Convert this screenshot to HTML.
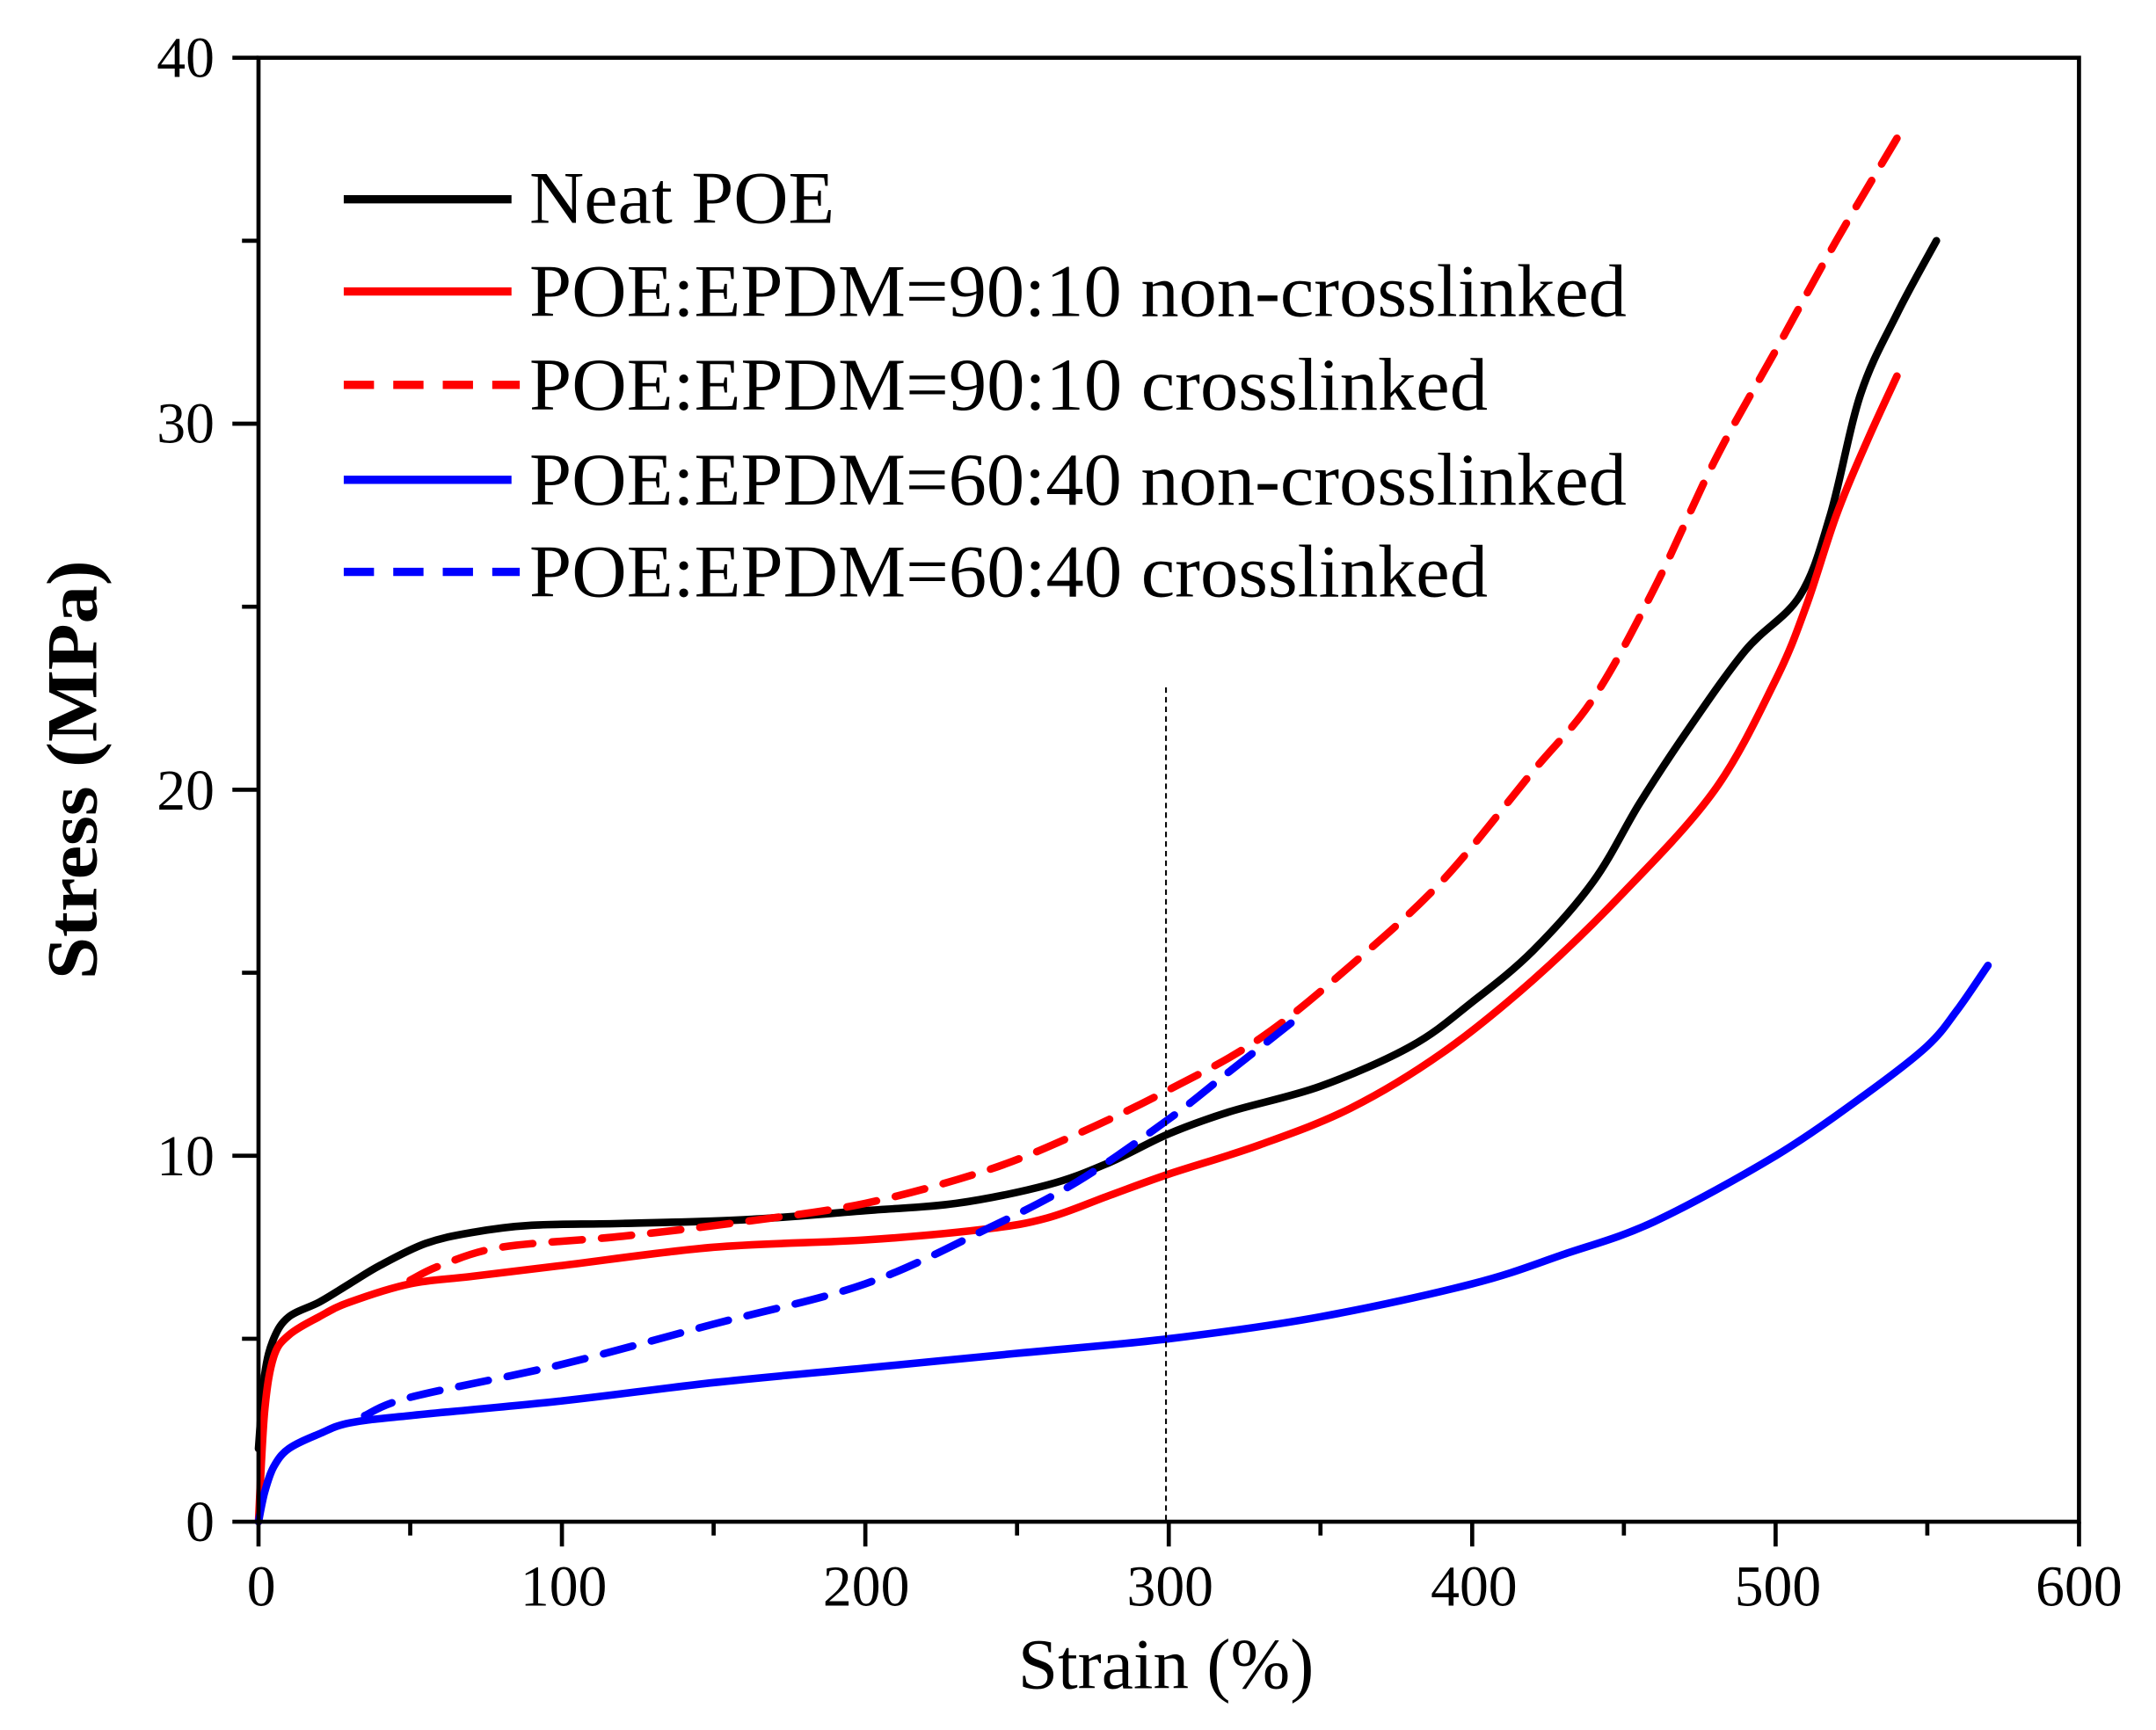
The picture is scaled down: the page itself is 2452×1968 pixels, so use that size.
<!DOCTYPE html>
<html><head><meta charset="utf-8"><style>html,body{margin:0;padding:0;background:#fff}svg{display:block}</style></head>
<body>
<svg id="s" width="2452" height="1968" viewBox="0 0 1568 1258.5" xmlns="http://www.w3.org/2000/svg">
<rect width="1568" height="1260" fill="#fff"/>
<g id="curves" fill="none" stroke-width="5.5" stroke-linejoin="round" stroke-linecap="round"></g>
<line x1="848" y1="500" x2="848" y2="1107" stroke="#000" stroke-width="1.3" stroke-dasharray="4,3"/>
<g stroke="#000" stroke-width="3" fill="none">
<path d="M188,42 H1512 V1107 H188 Z"/>
<g id="ticks"></g>
</g>
<g font-family="Liberation Serif, serif" font-size="42" fill="#000" text-anchor="middle">
<text x="190" y="1168">0</text><text x="410" y="1168">100</text><text x="630" y="1168">200</text>
<text x="851" y="1168">300</text><text x="1072" y="1168">400</text><text x="1293" y="1168">500</text><text x="1512" y="1168">600</text>
</g>
<g font-family="Liberation Serif, serif" font-size="42" fill="#000" text-anchor="end">
<text x="156" y="1121">0</text><text x="156" y="855">10</text><text x="156" y="589">20</text><text x="156" y="322">30</text><text x="156" y="56">40</text>
</g>
<text x="848" y="1228" font-family="Liberation Serif, serif" font-size="52" text-anchor="middle">Strain (%)</text>
<text transform="translate(70,560) rotate(-90)" font-family="Liberation Serif, serif" font-weight="bold" font-size="52" text-anchor="middle" textLength="305" lengthAdjust="spacingAndGlyphs">Stress (MPa)</text>
<g font-family="Liberation Serif, serif" font-size="54" fill="#000">
<text x="385" y="162" textLength="222" lengthAdjust="spacingAndGlyphs">Neat POE</text>
<text x="385" y="230" textLength="798" lengthAdjust="spacingAndGlyphs">POE:EPDM=90:10 non-crosslinked</text>
<text x="385" y="298" textLength="697" lengthAdjust="spacingAndGlyphs">POE:EPDM=90:10 crosslinked</text>
<text x="385" y="367" textLength="798" lengthAdjust="spacingAndGlyphs">POE:EPDM=60:40 non-crosslinked</text>
<text x="385" y="434" textLength="697" lengthAdjust="spacingAndGlyphs">POE:EPDM=60:40 crosslinked</text>
</g>
<g stroke-width="6">
<line x1="250" y1="145" x2="372" y2="145" stroke="#000"/>
<line x1="250" y1="212" x2="372" y2="212" stroke="#f00"/>
<line x1="250" y1="280" x2="378" y2="280" stroke="#f00" stroke-dasharray="22,14"/>
<line x1="250" y1="349" x2="372" y2="349" stroke="#00f"/>
<line x1="250" y1="416" x2="378" y2="416" stroke="#00f" stroke-dasharray="22,14"/>
</g>
</svg>
<script>
var X=function(v){return 188+v*2.2067},Y=function(v){return 1107-v*26.625};
var t='';
for(var i=0;i<=12;i++){var x=X(i*50);t+='M'+x+',1107 v'+(i%2?10:18)+' ';}
for(var j=0;j<=8;j++){var y=Y(j*5);t+='M188,'+y+' h'+(j%2?-12:-19)+' ';}
document.getElementById('ticks').innerHTML='<path d="'+t+'"/>';
var S=[
['#000','',[[0,2],[2,4],[5,5],[10,5.6],[20,6],[30,6.5],[40,7],[55,7.6],[70,7.9],[90,8.1],[120,8.15],[160,8.25],[200,8.5],[230,8.7],[260,9.2],[280,9.8],[300,10.6],[320,11.2],[350,11.9],[380,13],[400,14.2],[420,15.6],[440,17.5],[455,19.6],[470,21.5],[490,23.8],[508,25.3],[518,27.5],[528,30.8],[540,33],[553,35]]],
['#f00','',[[0,0],[2,3],[5,4.5],[10,5.1],[20,5.6],[30,6],[50,6.5],[70,6.7],[100,7],[150,7.5],[200,7.7],[240,8],[260,8.3],[280,8.9],[300,9.5],[330,10.3],[360,11.3],[390,12.8],[420,14.8],[450,17.2],[480,20],[500,23],[510,25],[520,27.5],[530,29.5],[540,31.3]]],
['#f00','22,14',[[50,6.6],[60,7],[80,7.5],[120,7.8],[160,8.2],[200,8.7],[240,9.6],[270,10.6],[300,11.8],[330,13.2],[360,15.2],[390,17.5],[420,20.5],[440,22.5],[460,25.5],[480,29],[500,32],[520,35],[540,37.8]]],
['#00f','',[[0,0],[2,0.8],[5,1.5],[10,2],[20,2.4],[30,2.7],[50,2.9],[100,3.3],[150,3.8],[200,4.2],[250,4.6],[300,5],[350,5.6],[400,6.5],[430,7.3],[460,8.2],[500,10],[530,11.7],[550,13],[560,14],[570,15.2]]],
['#00f','22,14',[[35,2.9],[50,3.4],[100,4.3],[150,5.4],[200,6.5],[240,8.0],[270,9.3],[300,11],[320,12.3],[343,13.8]]]
];
function spline(pts){
 var p=pts.map(function(q){return [X(q[0]),Y(q[1])];});
 var d='M'+p[0][0].toFixed(1)+','+p[0][1].toFixed(1);
 for(var i=0;i<p.length-1;i++){
  var p0=p[i-1]||p[i],p1=p[i],p2=p[i+1],p3=p[i+2]||p2;
  var c1=[p1[0]+(p2[0]-p0[0])/6,p1[1]+(p2[1]-p0[1])/6];
  var c2=[p2[0]-(p3[0]-p1[0])/6,p2[1]-(p3[1]-p1[1])/6];
  d+='C'+c1[0].toFixed(1)+','+c1[1].toFixed(1)+' '+c2[0].toFixed(1)+','+c2[1].toFixed(1)+' '+p2[0].toFixed(1)+','+p2[1].toFixed(1);
 }
 return d;
}
var h='';
S.forEach(function(s){
h+='<path d="'+spline(s[2])+'" stroke="'+s[0]+'"'+(s[1]?' stroke-dasharray="'+s[1]+'"':'')+'/>';});
document.getElementById('curves').innerHTML=h;
</script>
</body></html>
